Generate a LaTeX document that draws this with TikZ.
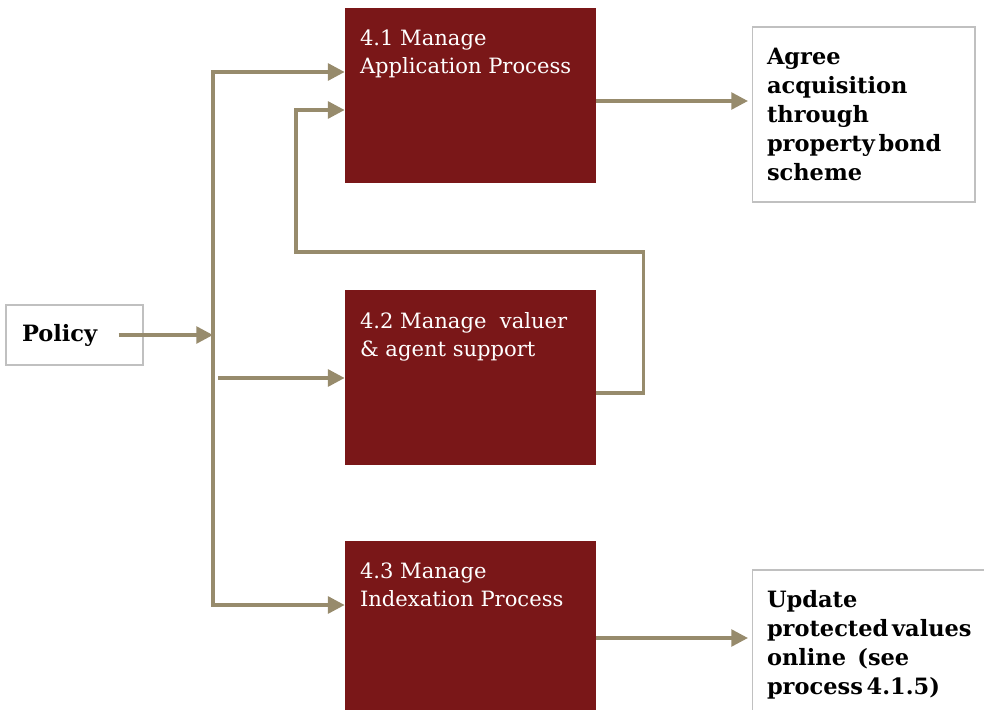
\documentclass[tikz,border=0pt]{standalone}
\usepackage{fontspec}
\setmainfont{DejaVu Serif}
\usetikzlibrary{arrows.meta,calc,positioning}
\definecolor{procred}{RGB}{122,23,24}
\definecolor{flowtan}{RGB}{151,139,108}
\definecolor{boxgray}{RGB}{192,192,192}

\begin{document}
\begin{tikzpicture}[
                x=0.02cm, y=-0.02cm,
                >={Triangle[length=9.5pt,width=9.5pt]},
                flow/.style={draw=flowtan, line width=2pt},
                process/.style={fill=procred, minimum width=5.02cm, minimum height=3.5cm, inner sep=0pt},
                proctext/.style={anchor=north west, inner sep=0pt, text=white, align=left,
                    font=\fontsize{12}{16}\selectfont, xshift=0.3cm, yshift=-0.44cm},
                outcome/.style={draw=boxgray, line width=0.6pt, align=left, inner xsep=0.3cm,
                    font=\fontsize{12.8}{16.5}\selectfont\bfseries}
            ]
            \useasboundingbox (0,0) rectangle (984,710);
            \clip (0,0) rectangle (984,710);

            % the three processes
            \node[process] (p1) at (470.5,95.5) {};
            \node[process] (p2) at (470.5,377.5) {};
            \node[process] (p3) at (470.5,628.5) {};
            \node[proctext] (p1text) at (p1.north west) {4.1 Manage\\Application Process};
            \node[proctext] (p2text) at (p2.north west) {4.2 Manage\ \ valuer\\\& agent support};
            \node[proctext] (p3text) at (p3.north west) {4.3 Manage\\Indexation Process};

            % inputs and outcomes
            \node[outcome, minimum width=2.74cm, minimum height=1.2cm, text width=2.1cm] (policy) at (74.5,335) {Policy};
            \node[outcome, minimum width=4.46cm, minimum height=3.5cm, text width=3.86cm] (agree) at (863.5,114.5)
                {Agree\\acquisition\\through\\property\,bond\\scheme};
            \node[outcome, minimum width=4.76cm, minimum height=3cm, text width=4.16cm] (update) at (871,645)
                {Update\\protected\,values\\online\hspace{0.5em}(see\\process\,4.1.5)};

            % the bus from policy
            \coordinate (bustop) at (213,72);
            \coordinate (busmid) at (213,335);
            \coordinate (busbot) at (213,605);
            \coordinate (feed2) at (218,378);
            \draw[flow,->] (busmid) -- (bustop) -- (bustop -| p1.west);
            \draw[flow,->] (busmid) -- (busbot) -- (busbot -| p3.west);
            \draw[flow,->] ($(policy.east)+(-25,0)$) -- (busmid);
            \draw[flow,->] (feed2) -- (feed2 -| p2.west);

            % loop back from 4.2 to 4.1
            \draw[flow,->] ([yshift=-0.31cm]p2.east) -- ++(47,0) |- (296,252) |- ([yshift=-0.29cm]p1.west);

            \draw[flow,->,shorten >=2pt] ([yshift=-0.11cm]p1.east) -- ([yshift=-0.11cm]p1.east -| agree.west);
            \draw[flow,->,shorten >=2pt] ([yshift=-0.19cm]p3.east) -- ([yshift=-0.19cm]p3.east -| update.west);
        \end{tikzpicture}
\end{document}
